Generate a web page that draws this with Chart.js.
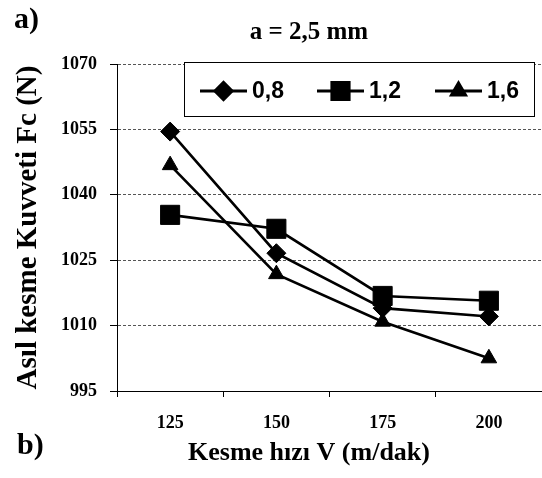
<!DOCTYPE html>
<html>
<head>
<meta charset="utf-8">
<script src="https://cdn.jsdelivr.net/npm/chart.js@4"></script>
<style>
  html, body { margin: 0; padding: 0; background: #fff; }
  #wrap { width: 542px; height: 478px; position: relative; }
</style>
</head>
<body>
<div id="wrap"><canvas id="grafico" width="542" height="478"></canvas></div>
<script>
// Dados do gráfico
const hizlar = ['125', '150', '175', '200'];
const seri08 = [1054.5, 1026.6, 1014.0, 1012.1];
const seri12 = [1035.4, 1032.2, 1016.8, 1015.7];
const seri16 = [1046.8, 1021.8, 1010.9, 1002.5];
const seriAdlari = ['0,8', '1,2', '1,6'];
const yTickler = [995, 1010, 1025, 1040, 1055, 1070];

const serif = "'Liberation Serif', 'Times New Roman', serif";
const sans = "'Liberation Sans', Arial, sans-serif";

// Legenda e rótulos extras desenhados no canvas
const extras = {
  id: 'extras',
  afterDraw(chart) {
    const ctx = chart.ctx;
    ctx.save();
    ctx.fillStyle = '#000';
    ctx.textBaseline = 'middle';

    ctx.font = 'bold 30px ' + serif;
    ctx.textAlign = 'left';
    ctx.fillText('a)', 14, 20);
    ctx.fillText('b)', 17, 446);

    ctx.font = 'bold 25px ' + serif;
    ctx.textAlign = 'center';
    ctx.fillText('a = 2,5 mm', 309, 33);

    // título do eixo x
    ctx.font = 'bold 26px ' + serif;
    ctx.fillText('Kesme hızı V (m/dak)', 309, 453);

    // caixa da legenda
    const box = { x: 184, y: 62, w: 350, h: 54 };
    ctx.fillStyle = '#fff';
    ctx.fillRect(box.x, box.y, box.w, box.h);
    ctx.strokeStyle = '#000';
    ctx.lineWidth = 1;
    ctx.strokeRect(box.x + 0.5, box.y + 0.5, box.w, box.h);

    const cy = 91;
    const posX = [200, 317, 435];
    chart.data.datasets.forEach((ds, i) => {
      const x0 = posX[i];
      ctx.strokeStyle = '#000';
      ctx.lineWidth = 3;
      ctx.beginPath();
      ctx.moveTo(x0, cy);
      ctx.lineTo(x0 + 47, cy);
      ctx.stroke();
      ctx.fillStyle = '#000';
      Chart.helpers.drawPoint(ctx, {
        pointStyle: ds.pointStyle,
        radius: ds.pointRadius * 0.9,
        rotation: 0,
        borderWidth: 1
      }, x0 + 23.5, cy);
      ctx.fillStyle = '#000';
      ctx.font = 'bold 23px ' + sans;
      ctx.textAlign = 'left';
      ctx.fillText(ds.label, x0 + 52, cy + 1);
    });
    ctx.restore();
  }
};

function seri(label, data, stil, r) {
  return {
    label: label,
    data: data,
    borderColor: '#000',
    backgroundColor: '#000',
    borderWidth: 2.6,
    pointStyle: stil,
    pointRadius: r,
    pointBorderWidth: 1,
    pointBackgroundColor: '#000',
    pointBorderColor: '#000',
    tension: 0
  };
}

new Chart(document.querySelector('#grafico'), {
  type: 'line',
  data: {
    labels: hizlar,
    datasets: [
      seri(seriAdlari[0], seri08, 'rectRot', 9.5),
      seri(seriAdlari[1], seri12, 'rect', 13.5),
      seri(seriAdlari[2], seri16, 'triangle', 9)
    ]
  },
  plugins: [extras],
  options: {
    responsive: false,
    animation: false,
    devicePixelRatio: 1,
    layout: { autoPadding: false, padding: { left: 7, right: 0, top: 64, bottom: 6 } },
    plugins: {
      legend: { display: false },
      tooltip: { enabled: false },
      title: { display: false }
    },
    scales: {
      x: {
        offset: true,
        grid: {
          offset: true,
          drawOnChartArea: false,
          drawTicks: true,
          tickLength: 6,
          color: '#000',
          tickColor: '#000'
        },
        border: { color: '#000', width: 1 },
        ticks: {
          color: '#000',
          padding: 16,
          font: { family: serif, weight: 'bold', size: 18 }
        },
        title: { display: false },
        afterFit: s => { s.height = 81; s.paddingLeft = 0; s.paddingRight = 0; }
      },
      y: {
        min: 995,
        max: 1070,
        afterBuildTicks: s => { s.ticks = yTickler.map(v => ({ value: v })); },
        grid: {
          color: '#555',
          tickColor: '#000',
          tickLength: 7,
          tickBorderDash: [],
          lineWidth: 1
        },
        border: { color: '#000', width: 1, dash: [3, 2] },
        ticks: {
          color: '#000',
          padding: 13,
          callback: v => String(v),
          font: { family: serif, weight: 'bold', size: 18 }
        },
        title: {
          display: true,
          text: 'Asıl kesme Kuvveti Fc (N)',
          color: '#000',
          padding: { bottom: 0 },
          font: { family: serif, weight: 'bold', size: 29 }
        },
        afterFit: s => { s.width = 110; s.paddingTop = 0; s.paddingBottom = 0; }
      }
    }
  }
});
</script>
</body>
</html>
